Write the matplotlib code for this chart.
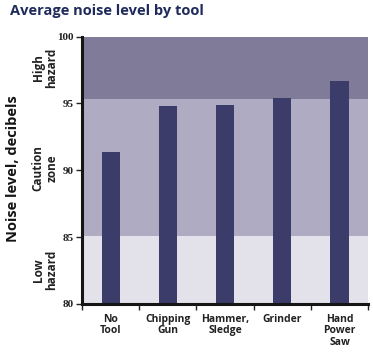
import matplotlib
matplotlib.use("Agg")
import matplotlib.pyplot as plt
import matplotlib.transforms as mtransforms

# data
tools = ["No\nTool", "Chipping\nGun", "Hammer,\nSledge", "Grinder", "Hand\nPower\nSaw"]
noise_db = [91.4, 94.8, 94.9, 95.4, 96.7]

zone_names = ["Low\nhazard", "Caution\nzone", "High\nhazard"]
zone_edges = [80, 85.05, 95.3, 100]
zone_colors = ["#e3e1e9", "#aeabc3", "#7f7b99"]

bar_color = "#3b3c69"
title_color = "#1f2b5b"
text_font = ["Open Sans", "DejaVu Sans"]

fig = plt.figure(figsize=(3.73, 3.55), dpi=100)
ax = fig.add_axes([0.220, 0.144, 0.767, 0.753])

for lo, hi, c in zip(zone_edges[:-1], zone_edges[1:], zone_colors):
    ax.axhspan(lo, hi, color=c, lw=0, zorder=0)

x = list(range(len(tools)))
ax.bar(x, noise_db, width=0.32, color=bar_color, zorder=2)

ax.set_xlim(-0.5, len(tools) - 0.5)
ax.set_ylim(80, 100)

# y axis
ax.set_yticks([80, 85, 90, 95, 100])
ax.set_yticklabels(["80", "85", "90", "95", "100"],
                   fontfamily="Liberation Serif", fontweight="bold", fontsize=8)
ax.tick_params(axis="y", direction="out", length=4, width=1, pad=2, colors="#222222")

# x axis: tick marks between categories, labels centred
ax.set_xticks(x)
ax.set_xticklabels(tools, fontfamily=text_font, fontweight="bold", fontsize=7.5,
                   linespacing=1.1, color="#222222", va="top")
ax.tick_params(axis="x", which="major", length=0, pad=7)
ax.set_xticks([i + 0.5 for i in [-1] + x], minor=True)
ax.tick_params(axis="x", which="minor", direction="out", length=4, width=1, color="#222222")

for side in ["top", "right"]:
    ax.spines[side].set_visible(False)
ax.spines["left"].set_linewidth(2.2)
ax.spines["bottom"].set_linewidth(2.2)
ax.spines["left"].set_color("#151515")
ax.spines["bottom"].set_color("#151515")

# zone labels in the margin
trans = mtransforms.blended_transform_factory(fig.transFigure, ax.transData)
for name, lo, hi in zip(zone_names, zone_edges[:-1], zone_edges[1:]):
    ax.text(45 / 373, (lo + hi) / 2, name, transform=trans, rotation=90,
            ha="center", va="center", multialignment="center",
            fontfamily=text_font, fontweight="bold", fontsize=8.5,
            color="#222222", linespacing=1.05)

fig.text(13 / 373, 1 - 169 / 355, "Noise level, decibels", rotation=90,
         ha="center", va="center", fontfamily=text_font, fontweight="bold",
         fontsize=10.5, color="#151515")

fig.text(10 / 373, 1 - 11 / 355, "Average noise level by tool", ha="left", va="center",
         fontfamily=text_font, fontweight="bold", fontsize=10.5, color=title_color)

fig.savefig("out.png", dpi=100)
